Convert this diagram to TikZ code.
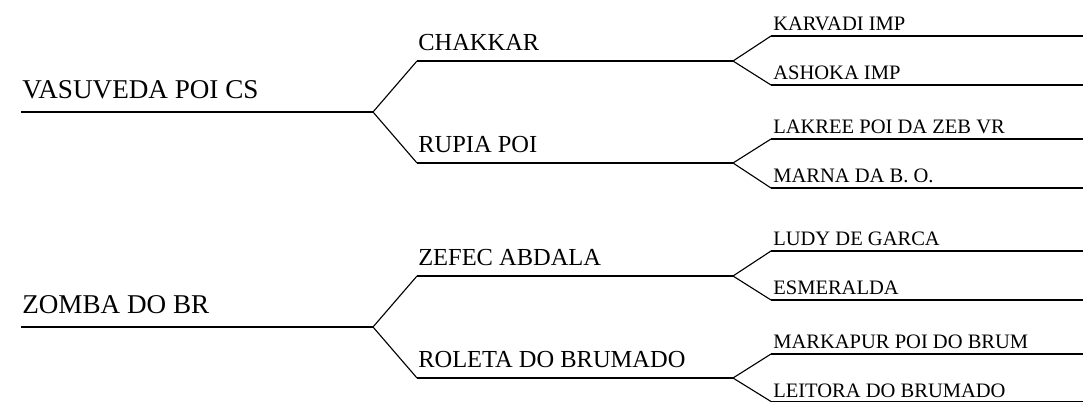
\documentclass[tikz,border=0pt]{standalone}
\usepackage{fontspec}
\setmainfont{Liberation Serif}
\begin{document}
\begin{tikzpicture}[x=0.025cm,y=-0.025cm,
  gen1/.style={anchor=base west,inner sep=0pt,font=\fontsize{19.3}{19.3}\selectfont},
  gen2/.style={anchor=base west,inner sep=0pt,font=\fontsize{17.4}{17.4}\selectfont},
  gen3/.style={anchor=base west,inner sep=0pt,font=\fontsize{14.6}{14.6}\selectfont},
  bar/.style={line width=1.1pt},
  fork/.style={line width=0.8pt,line join=miter}]
  \useasboundingbox (0,0) rectangle (1083,402);
  % Sire side
  \coordinate (vasL) at (21,112);   \coordinate (vasR) at (373,112);
  \coordinate (chaL) at (417,61);   \coordinate (chaR) at (733,61);
  \coordinate (rupL) at (417,163);  \coordinate (rupR) at (733,163);
  \coordinate (karL) at (771,36);   \coordinate (karR) at (1083,36);
  \coordinate (ashL) at (771,85);   \coordinate (ashR) at (1083,85);
  \coordinate (lakL) at (771,139);  \coordinate (lakR) at (1083,139);
  \coordinate (marL) at (771,188);  \coordinate (marR) at (1083,188);
  \node[gen1] (vas) at (22,98) {VASUVEDA POI CS};
  \node[gen2] (cha) at (418,50) {CHAKKAR};
  \node[gen2] (rup) at (418,152) {RUPIA POI};
  \node[gen3] (kar) at (773,30) {KARVADI IMP};
  \node[gen3] (ash) at (773,79) {ASHOKA IMP};
  \node[gen3] (lak) at (773,133) {LAKREE POI DA ZEB VR};
  \node[gen3] (mar) at (773,182) {MARNA DA B. O.};
  \draw[bar] (vasL) -- (vasR);
  \draw[fork] (chaL) -- (vasR) -- (rupL);
  \draw[bar] (chaL) -- (chaR);
  \draw[bar] (rupL) -- (rupR);
  \draw[fork] (karL) -- (chaR) -- (ashL);
  \draw[fork] (lakL) -- (rupR) -- (marL);
  \draw[bar] (karL) -- (karR);
  \draw[bar] (ashL) -- (ashR);
  \draw[bar] (lakL) -- (lakR);
  \draw[bar] (marL) -- (marR);
  % Dam side
  \coordinate (zomL) at (21,327);   \coordinate (zomR) at (373,327);
  \coordinate (zefL) at (417,276);  \coordinate (zefR) at (733,276);
  \coordinate (rolL) at (417,378);  \coordinate (rolR) at (733,378);
  \coordinate (ludL) at (771,251);  \coordinate (ludR) at (1083,251);
  \coordinate (esmL) at (771,300);  \coordinate (esmR) at (1083,300);
  \coordinate (mkpL) at (771,354);  \coordinate (mkpR) at (1083,354);
  \coordinate (leiL) at (771,401.5);  \coordinate (leiR) at (1083,401.5);
  \node[gen1] (zom) at (22,313) {ZOMBA DO BR};
  \node[gen2] (zef) at (418,265) {ZEFEC ABDALA};
  \node[gen2] (rol) at (418,367) {ROLETA DO BRUMADO};
  \node[gen3] (lud) at (773,245) {LUDY DE GARCA};
  \node[gen3] (esm) at (773,294) {ESMERALDA};
  \node[gen3] (mkp) at (773,348) {MARKAPUR POI DO BRUM};
  \node[gen3] (lei) at (773,397) {LEITORA DO BRUMADO};
  \draw[bar] (zomL) -- (zomR);
  \draw[fork] (zefL) -- (zomR) -- (rolL);
  \draw[bar] (zefL) -- (zefR);
  \draw[bar] (rolL) -- (rolR);
  \draw[fork] (ludL) -- (zefR) -- (esmL);
  \draw[fork] (mkpL) -- (rolR) -- (leiL);
  \draw[bar] (ludL) -- (ludR);
  \draw[bar] (esmL) -- (esmR);
  \draw[bar] (mkpL) -- (mkpR);
  \draw[bar] (leiL) -- (leiR);
\end{tikzpicture}
\end{document}
